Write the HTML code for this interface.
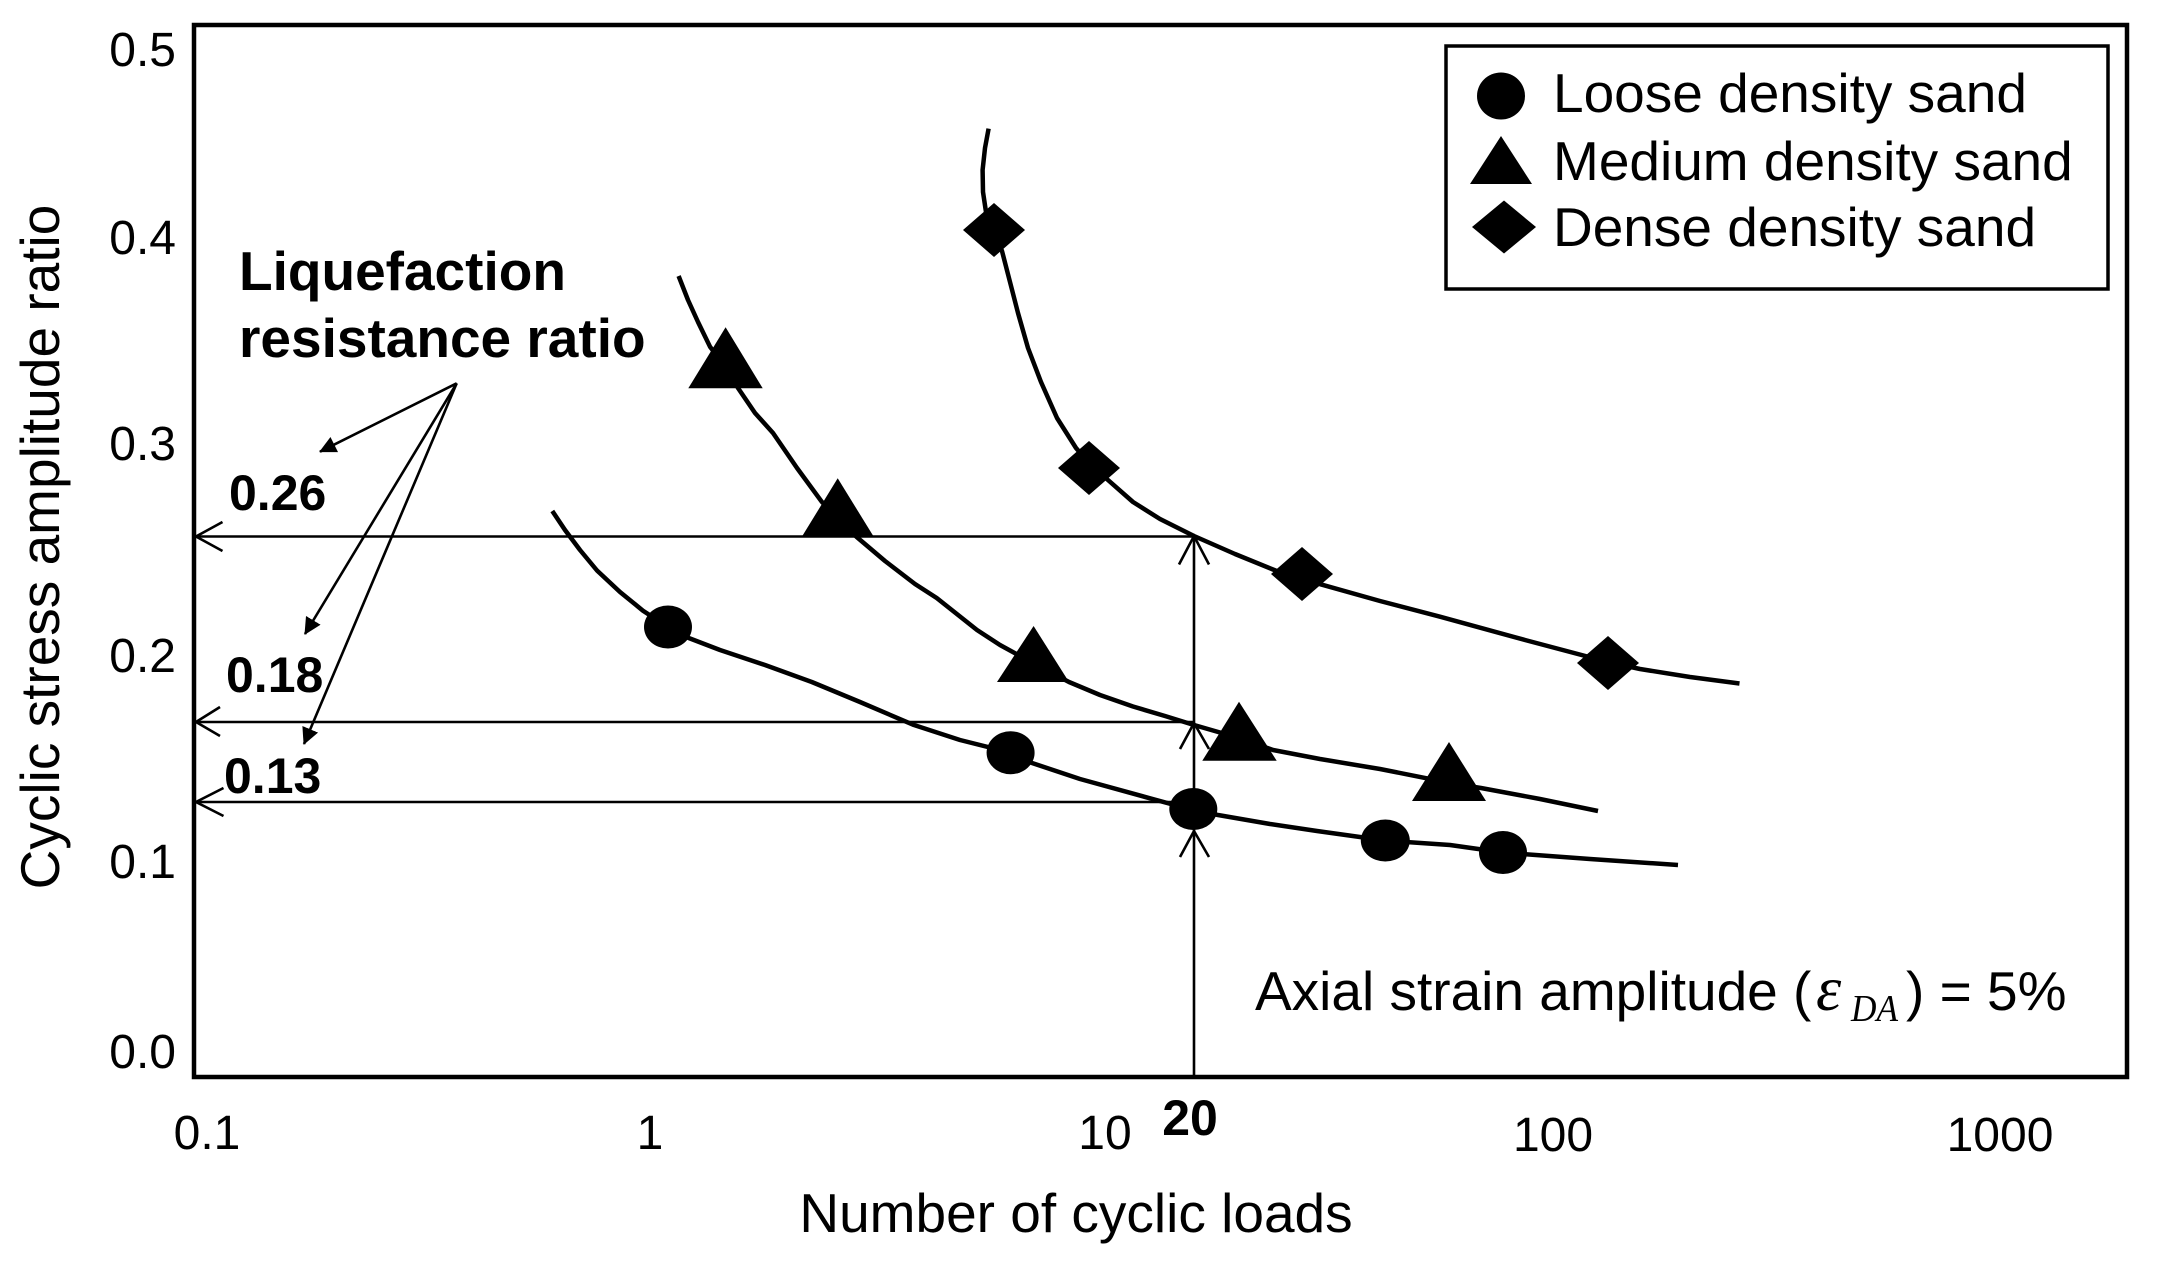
<!DOCTYPE html>
<html>
<head>
<meta charset="utf-8">
<style>
html,body{margin:0;padding:0;background:#fff;}
svg{display:block;}
text{font-family:"Liberation Sans",Arial,sans-serif;fill:#000;}
.tick{font-size:48px;}
.lab{font-size:55px;}
.bold{font-weight:bold;}
</style>
</head>
<body>
<svg width="2157" height="1261" viewBox="0 0 2157 1261" xmlns="http://www.w3.org/2000/svg">
<defs>
<marker id="ah" viewBox="0 0 17 17" refX="16" refY="8.5" markerWidth="17" markerHeight="17" markerUnits="userSpaceOnUse" orient="auto">
<path d="M0,0 L17,8.5 L0,17 z" fill="#000"/>
</marker>
</defs>
<rect x="0" y="0" width="2157" height="1261" fill="#fff"/>

<!-- plot frame -->
<rect x="194" y="25" width="1933" height="1052" fill="none" stroke="#000" stroke-width="4.5"/>

<!-- y tick labels -->
<text class="tick" x="176" y="66" text-anchor="end">0.5</text>
<text class="tick" x="176" y="254" text-anchor="end">0.4</text>
<text class="tick" x="176" y="460" text-anchor="end">0.3</text>
<text class="tick" x="176" y="672" text-anchor="end">0.2</text>
<text class="tick" x="176" y="878" text-anchor="end">0.1</text>
<text class="tick" x="176" y="1068" text-anchor="end">0.0</text>

<!-- x tick labels -->
<text class="tick" x="207" y="1149" text-anchor="middle">0.1</text>
<text class="tick" x="650" y="1149" text-anchor="middle">1</text>
<text class="tick" x="1105" y="1149" text-anchor="middle">10</text>
<text class="tick" x="1553" y="1151" text-anchor="middle">100</text>
<text class="tick" x="2000" y="1151" text-anchor="middle">1000</text>
<text class="bold" x="1190" y="1135" text-anchor="middle" font-size="50">20</text>

<!-- axis titles -->
<text class="lab" x="1076" y="1232" text-anchor="middle">Number of cyclic loads</text>
<text class="lab" transform="translate(59,547) rotate(-90)" text-anchor="middle" font-size="56">Cyclic stress amplitude ratio</text>

<!-- reference lines -->
<g stroke="#000" stroke-width="2.6" fill="none" stroke-linecap="butt">
<line x1="196" y1="536.5" x2="1194" y2="536.5"/>
<line x1="196" y1="722" x2="1194" y2="722"/>
<line x1="196" y1="802" x2="1172" y2="802"/>
<line x1="1194" y1="536" x2="1194" y2="1077"/>
<polyline points="222.5,522 196,536.5 222.5,551"/>
<polyline points="220,707 196,722 220,736"/>
<polyline points="223.5,788 196,802 223.5,816"/>
<polyline points="1179,564.5 1194,536 1209,564.5"/>
<polyline points="1180,749 1194,723 1209,749"/>
<polyline points="1180,857 1194,831 1209,857"/>
</g>

<!-- annotation arrows -->
<g stroke="#000" stroke-width="2.6" fill="none">
<line x1="456.7" y1="383.3" x2="320" y2="451.7" marker-end="url(#ah)"/>
<line x1="456.7" y1="383.3" x2="305" y2="634" marker-end="url(#ah)"/>
<line x1="456.7" y1="383.3" x2="304" y2="744" marker-end="url(#ah)"/>
</g>

<!-- annotation text -->
<text class="bold" x="239" y="290" font-size="55">Liquefaction</text>
<text class="bold" x="239" y="357" font-size="55">resistance ratio</text>
<text class="bold" x="229" y="510" font-size="50">0.26</text>
<text class="bold" x="226" y="692" font-size="50">0.18</text>
<text class="bold" x="224" y="793" font-size="50">0.13</text>

<!-- curves -->
<g stroke="#000" stroke-width="4.5" fill="none" stroke-linejoin="round" stroke-linecap="butt">
<polyline points="988.6,128.6 985,148 982.6,170 983,192 986,212 994,230 1002,251 1010,282 1018,313 1028,348 1041,382 1057,418 1076,448 1089,463 1105.7,478 1133,502 1160,519 1194,536 1235,554 1275.5,570.5 1302,578 1321.5,584.6 1380,601 1440,616.7 1525,640 1608,662 1640,669 1690,677 1739.5,683.5"/>
<polyline points="678.6,276 688,300 698,322 710,346.7 725,366 738,388 755,413 773,433 797,468 821.7,501.7 838,519 856.7,537 885,561 915,584 936.7,598 977,630 1000,645 1033,663 1069,682 1100,695 1133,706.5 1165,716 1194,725 1239,738 1273,750 1320,759 1380,769 1426.7,778.3 1449,783 1481,788 1540,799 1598,811"/>
<polyline points="552.3,511 565,530 580,550 597,570.5 620,592 643,610.7 668,627 688.7,638 720,650 765,665 811.8,682 860,702 912.8,724.6 960,740 1010.6,752.7 1032,763 1080,779 1150,798.3 1193,810 1218,815 1270,824 1317,831 1385,840.5 1450,845 1503,852.5 1590,859 1678,865"/>
</g>

<!-- markers -->
<g fill="#000">
<!-- diamonds -->
<polygon points="994,203 1025,230 994,257 963,230"/>
<polygon points="1089,441 1120,468 1089,495 1058,468"/>
<polygon points="1302,547 1333,574 1302,601 1271,574"/>
<polygon points="1608,636 1639,663 1608,690 1577,663"/>
<!-- triangles -->
<polygon points="725.6,327.3 762.7,388.3 688.3,388.3"/>
<polygon points="837.7,478.3 873.3,536 802.3,536"/>
<polygon points="1033.6,626 1069,682 997,682"/>
<polygon points="1239,701.7 1276.7,760.7 1202.3,760.7"/>
<polygon points="1449,742 1486,801 1412,801"/>
<!-- circles -->
<ellipse cx="668" cy="627" rx="24" ry="21.5"/>
<ellipse cx="1010.6" cy="752.7" rx="24" ry="21.5"/>
<ellipse cx="1193.3" cy="809" rx="24" ry="21"/>
<ellipse cx="1385.3" cy="840.5" rx="24.5" ry="21"/>
<ellipse cx="1503" cy="852.5" rx="24" ry="21.5"/>
</g>

<!-- legend -->
<rect x="1446" y="46" width="662" height="243" fill="#fff" stroke="#000" stroke-width="3.5"/>
<ellipse cx="1501" cy="96" rx="24" ry="23.5" fill="#000"/>
<polygon points="1501,136 1532,184 1470,184" fill="#000"/>
<polygon points="1504,200.5 1536,227 1504,253.5 1472,227" fill="#000"/>
<text class="lab" x="1553" y="112">Loose density sand</text>
<text class="lab" x="1553" y="180">Medium density sand</text>
<text class="lab" x="1553" y="246">Dense density sand</text>

<!-- strain annotation -->
<text class="lab" x="1255" y="1010">Axial strain amplitude (</text>
<text x="1816" y="1010" font-size="64" font-style="italic" style="font-family:'Liberation Serif',serif;">ε</text>
<text x="1851" y="1021" font-size="38" font-style="italic" textLength="47" lengthAdjust="spacingAndGlyphs" style="font-family:'Liberation Serif',serif;">DA</text>
<text class="lab" x="1906" y="1010">) = 5%</text>
</svg>
</body>
</html>
